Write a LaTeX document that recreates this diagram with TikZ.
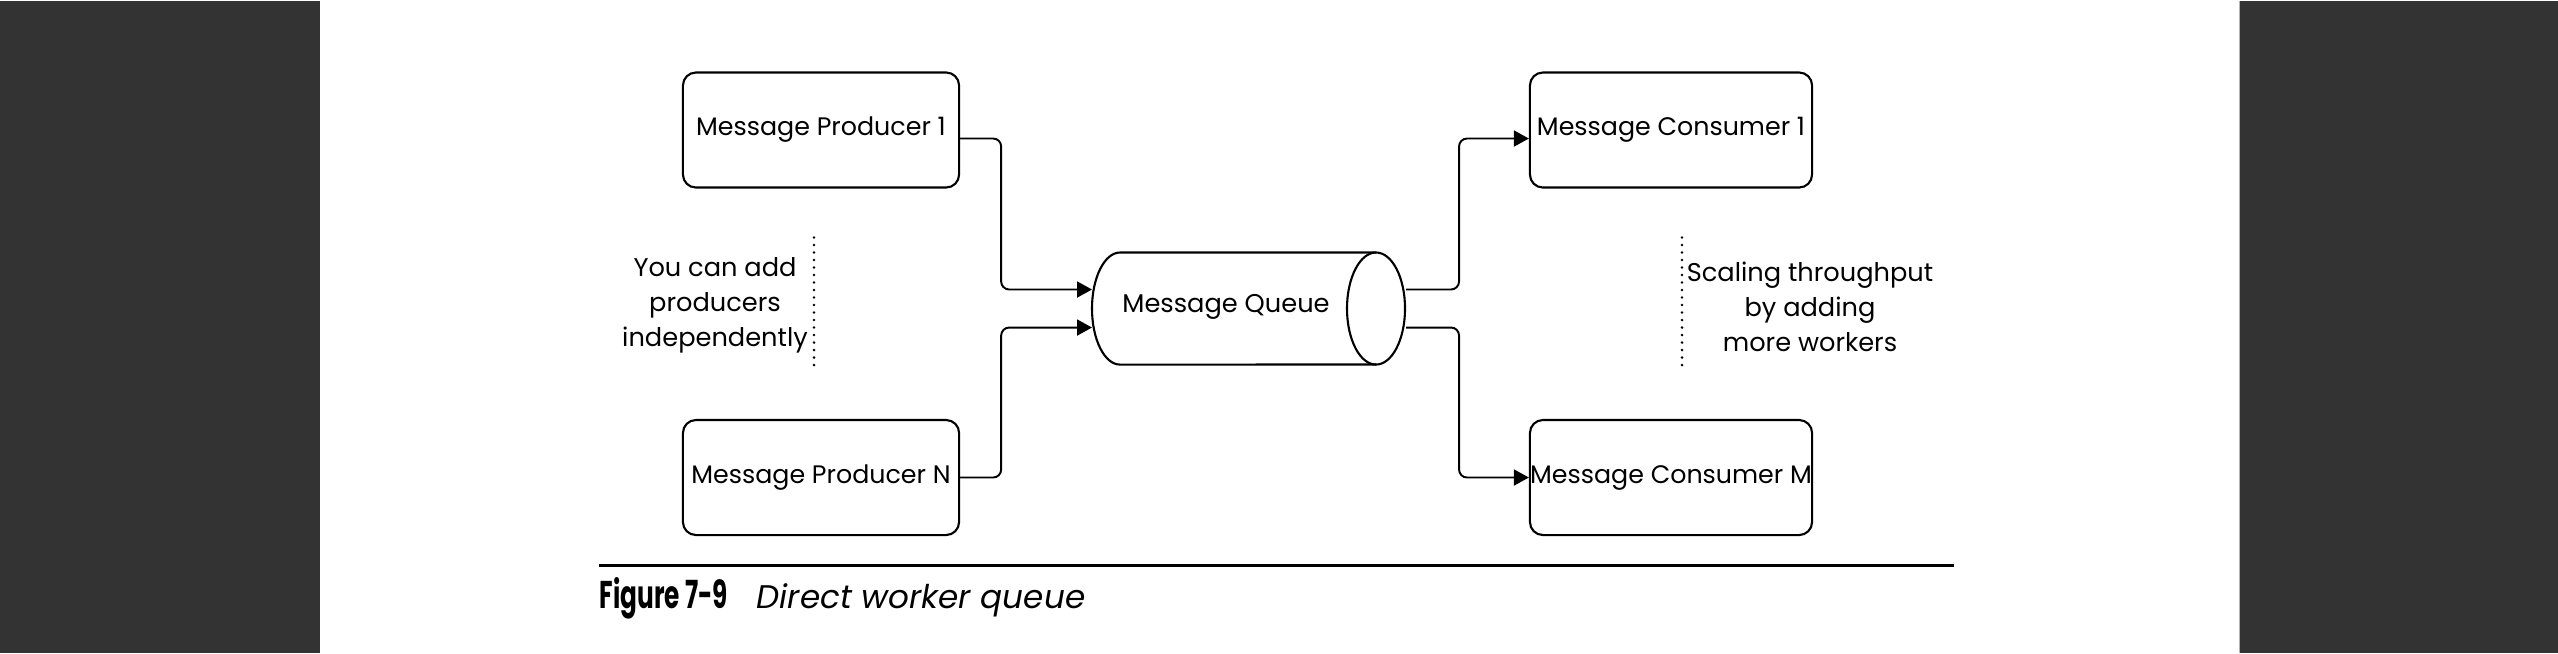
\documentclass[tikz,border=0pt]{standalone}
\usepackage{fontspec}
\setmainfont{Poppins}
\newfontfamily\figfont{Poppins}[FakeStretch=0.64]
\usetikzlibrary{arrows.meta}
\definecolor{pagegray}{HTML}{333333}
\tikzset{
    msgbox/.style={draw,line width=0.6pt,rounded corners=0.13cm,minimum height=1.15cm,inner xsep=0pt,
        font=\fontsize{7.2pt}{8.5pt}\selectfont},
    flow/.style={line width=0.55pt,rounded corners=0.08cm,-{Triangle[length=0.15cm,width=0.16cm]}},
    note/.style={align=center,font=\fontsize{7.3pt}{0.35cm}\selectfont},
    sepline/.style={line width=0.8pt,dash pattern=on 0pt off 0.075cm,line cap=round}
}
\begin{document}
\begin{tikzpicture}[x=0.01cm,y=-0.01cm]
        %% Page
        \fill[white] (0,0) rectangle (2558,652);
        \fill[pagegray] (0,0) rectangle (320,652);
        \fill[pagegray] (2240,0) rectangle (2558,652);
        \draw[gray!60,line width=0.01cm] (2239.5,0) -- (2239.5,652);
        %% Producers and consumers
        \node[msgbox,minimum width=2.76cm] (prod1) at (821,129.5) {Message Producer 1};
        \node[msgbox,minimum width=2.76cm] (prodN) at (821,477) {Message Producer N};
        \node[msgbox,minimum width=2.82cm] (cons1) at (1671,129.5) {Message Consumer 1};
        \node[msgbox,minimum width=2.82cm] (consM) at (1671,477) {Message Consumer M};
        %% Queue
        \draw[line width=0.6pt] (1376,252) -- (1120,252)
            arc[start angle=90,end angle=270,x radius=0.28cm,y radius=0.56cm] -- (1376,364);
        \draw[line width=0.6pt] (1376,308) ellipse [x radius=0.29cm,y radius=0.56cm];
        \node[font=\fontsize{7.3pt}{8.5pt}\selectfont] (queue) at (1226,306) {Message Queue};
        \coordinate (qin) at (1092,308);
        \coordinate (qout) at (1406,308);
        %% Flows
        \draw[flow] ([yshift=-0.085cm]prod1.east) -- ++(0.41cm,0) |- ([yshift=0.19cm]qin);
        \draw[flow] (prodN.east) -- ++(0.41cm,0) |- ([yshift=-0.19cm]qin);
        \draw[flow] ([yshift=0.19cm]qout) -- ++(0.53cm,0) |- ([yshift=-0.085cm]cons1.west);
        \draw[flow] ([yshift=-0.19cm]qout) -- ++(0.53cm,0) |- (consM.west);
        %% Notes
        \node[note] (addprod) at (715,305) {You can add\\producers\\independently};
        \draw[sepline] (814,237) -- (814,368);
        \node[note] (addcons) at (1810,306) {Scaling throughput\\by adding\\more workers};
        \draw[sepline] (1682,237) -- (1682,368);
        %% Caption
        \draw[line width=0.03cm] (599,565) -- (1954,565);
        \node[anchor=base west,inner sep=0,font=\figfont\fontsize{11pt}{13pt}\selectfont\bfseries] (fignum) at (599,608) {Figure 7-9};
        \node[anchor=base west,inner sep=0,font=\fontsize{9.3pt}{11pt}\selectfont\itshape] (figtitle) at (756,608) {Direct worker queue};
    \end{tikzpicture}
\end{document}
